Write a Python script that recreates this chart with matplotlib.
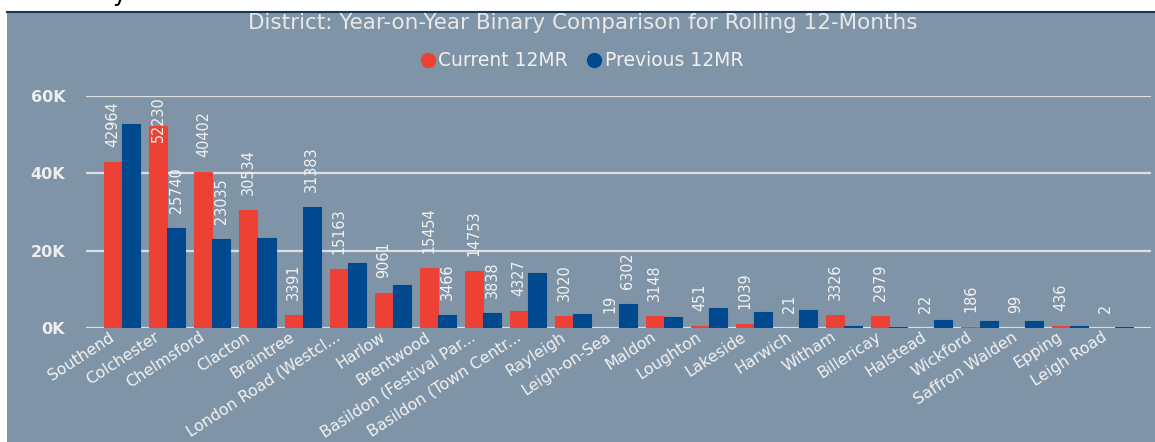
import matplotlib
matplotlib.use("Agg")
import matplotlib.pyplot as plt
from matplotlib.lines import Line2D
from matplotlib.patches import Rectangle
from matplotlib.transforms import ScaledTranslation
import numpy as np

# ---------------- data ----------------
districts = ["Southend", "Colchester", "Chelmsford", "Clacton", "Braintree",
             "London Road (Westcl...", "Harlow", "Brentwood",
             "Basildon (Festival Par...", "Basildon (Town Centr...", "Rayleigh",
             "Leigh-on-Sea", "Maldon", "Loughton", "Lakeside", "Harwich", "Witham",
             "Billericay", "Halstead", "Wickford", "Saffron Walden", "Epping",
             "Leigh Road"]
current_12mr = [42964, 52230, 40402, 30534, 3391, 15163, 9061, 15454, 14753, 4327,
                3020, 19, 3148, 451, 1039, 21, 3326, 2979, 22, 186, 99, 436, 2]
previous_12mr = [52800, 25740, 23035, 23200, 31383, 16800, 11100, 3466, 3838, 14200,
                 3600, 6302, 2950, 5200, 4200, 4650, 400, 350, 2100, 1800, 1800, 400, 300]
previous_label_shown = [False, True, True, False, True, False, False, True, True, False,
                        False, True, False, False, False, False, False, False, False,
                        False, False, False, False]
y_ticks = [0, 20000, 40000, 60000]
y_tick_labels = ["0K", "20K", "40K", "60K"]
series_names = ["Current 12MR", "Previous 12MR"]
title = "District: Year-on-Year Binary Comparison for Rolling 12-Months"

# ---------------- style ----------------
W, H, DPI = 1155, 442, 100
BG = "#8094a7"
RED = "#ee4135"
BLUE = "#00498f"
GRID = "#dcdfe2"
TXT = "#f2f2f2"

fig = plt.figure(figsize=(W / DPI, H / DPI), dpi=DPI, facecolor="white")

# panel background and top border
fig.patches.append(Rectangle((7 / W, 0), 1 - 7 / W, 1 - 11 / H, transform=fig.transFigure,
                             facecolor=BG, edgecolor="none", zorder=-10))
fig.lines.append(Line2D([7 / W, 1], [1 - 11.5 / H, 1 - 11.5 / H], transform=fig.transFigure,
                        color="#1c3556", lw=1.5, zorder=-5))
# fragment of text above the panel (cut off in the source)
fig.text(112 / W, 1 - 1.5 / H, "y", color="black", fontsize=17, va="baseline", ha="left")

ax = fig.add_axes([86 / W, 1 - 328 / H, (1151 - 86) / W, (328 - 96) / H])
ax.set_facecolor("none")
for s in ax.spines.values():
    s.set_visible(False)

x = np.arange(len(districts))
bw = 0.4
ax.bar(x - bw / 2, current_12mr, width=bw, color=RED, edgecolor=RED, lw=0.8,
       zorder=3, label=series_names[0])
ax.bar(x + bw / 2, previous_12mr, width=bw, color=BLUE, edgecolor=BLUE, lw=0.8,
       zorder=3, label=series_names[1])

ax.set_xlim(-0.8, len(districts) - 0.2)
ax.set_ylim(0, 60000)
ax.set_yticks(y_ticks)
ax.set_yticklabels(y_tick_labels)
ax.yaxis.grid(True, color=GRID, lw=1.6, zorder=1)
ax.set_axisbelow(True)
ax.tick_params(axis="y", length=0, pad=15, labelsize=11.5, labelcolor="#eeeeee")
for t in ax.get_yticklabels():
    t.set_fontweight("bold")

ax.set_xticks(x)
ax.set_xticklabels(districts, rotation=33, ha="right", rotation_mode="anchor",
                   fontsize=11.3, color=TXT)
ax.tick_params(axis="x", length=0, pad=1)
for t in ax.get_xticklabels():
    t.set_transform(t.get_transform() + ScaledTranslation(-13 / DPI, 0, fig.dpi_scale_trans))

# value labels
lab_kw = dict(textcoords="offset pixels", rotation=90, ha="center", va="bottom",
              color=TXT, fontsize=11.5, family="DejaVu Sans", fontstretch="condensed",
              zorder=5, annotation_clip=False)
labels = []
for i, v in enumerate(current_12mr):
    labels.append(ax.annotate(f"{v}", (x[i] - bw / 2, v), xytext=(0, 15), **lab_kw))
for i, v in enumerate(previous_12mr):
    if previous_label_shown[i]:
        labels.append(ax.annotate(f"{v}", (x[i] + bw / 2, v), xytext=(0, 15), **lab_kw))

# keep labels inside the plot area (as the source does)
fig.canvas.draw()
r = fig.canvas.get_renderer()
top_px = ax.transData.transform((0, 60000))[1]
for lb in labels:
    bb = lb.get_window_extent(r)
    if bb.y1 > top_px:
        ox, oy = lb.xyann
        lb.xyann = (ox, oy - (bb.y1 - top_px))

# title and legend
fig.text(583 / W, 1 - 23 / H, title, ha="center", va="center", color="#e8e8e8", fontsize=15.5)
handles = [Line2D([], [], marker="o", ls="none", markersize=10, color=c) for c in (RED, BLUE)]
leg = fig.legend(handles, series_names, loc="center", bbox_to_anchor=(581 / W, 1 - 61 / H),
                 ncol=2, frameon=False, handletextpad=0.05, columnspacing=0.9,
                 handlelength=1.0, fontsize=13.5, labelcolor="#f0f0f0")

fig.savefig("out.png", dpi=DPI, facecolor="white")
